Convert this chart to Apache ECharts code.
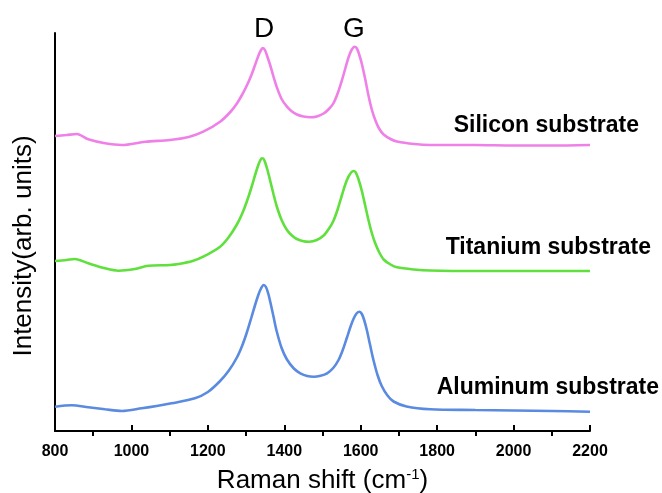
<!DOCTYPE html>
<html>
<head>
<meta charset="utf-8">
<script src="https://cdn.jsdelivr.net/npm/echarts@6/dist/echarts.min.js"></script>
<style>html,body{margin:0;padding:0;background:#fff}#c{width:662px;height:493px}</style>
</head>
<body>
<div id="c"></div>
<script>
// Raman shift (cm-1) and intensity (arb. units, stacked offsets as drawn)
const silicon = [
[800,295],[830,296],[857,297],[887,291.7],[931,287.7],[975,286],[1036,289.3],[1101,291],[1150,294],[1188,299.3],
[1232,309.3],[1260,319.5],[1276,327.5],[1290,336.5],[1302,345.5],[1314,356],[1324,366.5],[1334,377],[1340,381.5],[1344,383],
[1350,380.5],[1356,374],[1363,366],[1372,354],[1380,344.3],[1393,332],[1407,324.3],[1420,319.5],[1433,316.5],[1450,314.5],
[1468,313.7],[1485,314.5],[1503,317.5],[1518,322.5],[1529,328],[1540,338],[1551,351],[1560,363],[1568,373.5],[1576,381],
[1584,384.3],[1590,382.5],[1596,376.5],[1603,367],[1612,351.5],[1620,336],[1629,321.5],[1638,311],[1648,302.5],[1660,296.5],
[1678,292],[1695,289.5],[1740,287],[1782,286],[1900,286],[2000,285.5],[2100,285.5],[2200,286]
];
const titanium = [
[800,170],[830,171],[852,172],[887,167.7],[931,162.7],[966,160.3],[1009,162],[1044,165.3],[1101,166],[1123,167],[1160,170],
[1188,174.3],[1232,184.3],[1255,194],[1276,206.5],[1290,217.5],[1302,229.5],[1314,243.5],[1324,256.5],[1332,266],[1337,270.5],
[1341,272.7],[1345,272.5],[1350,268.5],[1356,261],[1363,250.5],[1372,236.5],[1380,225],[1393,211],[1407,201],[1420,195.5],
[1433,192],[1450,189.8],[1465,189.3],[1485,191],[1503,195.5],[1518,203],[1529,210.5],[1540,222],[1551,236],[1560,247],
[1568,254.3],[1575,258.5],[1581,260],[1587,258.5],[1594,252],[1603,240],[1612,225],[1620,211.5],[1629,198],[1638,187.7],
[1648,179],[1660,171.5],[1678,166.5],[1695,163.7],[1740,161.5],[1782,160.5],[1900,160],[2000,160],[2100,160],[2200,160]
];
const aluminum = [
[800,24.3],[844,25.7],[887,23.7],[931,21.7],[975,20],[1027,22.7],[1066,25],[1105,27.7],[1166,32.7],[1200,39],[1232,50],
[1255,60.5],[1276,73.5],[1290,85.5],[1302,98.5],[1314,113.5],[1324,126.5],[1332,136],[1339,142.5],[1346,146],[1352,144],
[1358,137.5],[1364,128],[1372,114],[1380,100],[1393,83],[1407,71.5],[1425,62.5],[1442,57.7],[1460,55],[1477,54.3],
[1495,55.3],[1512,57.7],[1528,63],[1542,71],[1553,81],[1564,93.5],[1573,104],[1581,112],[1589,117.5],[1597,119.3],
[1603,117],[1609,111],[1616,101],[1624,87],[1633,71.5],[1644,56],[1655,45],[1670,35.5],[1686,29.5],[1720,24.5],
[1782,21.7],[1900,21],[2000,20.5],[2100,20],[2200,19.3]
];
const seriesNames = ['Silicon substrate','Titanium substrate','Aluminum substrate'];
const peakLabels = ['D','G'];
const xTicks = [800,1000,1200,1400,1600,1800,2000,2200];

const FONT = '"Liberation Sans", Arial, sans-serif';
const chart = echarts.init(document.getElementById('c'), null, {renderer:'canvas'});
const colors = ['#ef80e8','#5fe03c','#5a8be0'];
const datas = [silicon, titanium, aluminum];

chart.setOption({
  animation:false,
  backgroundColor:'#fff',
  grid:{left:55,right:72,top:33,bottom:62,containLabel:false,outerBoundsMode:'none'},
  xAxis:{
    type:'value', min:xTicks[0], max:xTicks[xTicks.length-1], interval:200,
    name:'Raman shift (cm{sup|-1})',
    nameLocation:'middle', nameGap:36,
    nameTextStyle:{fontFamily:FONT,fontSize:26,color:'#000',
      rich:{sup:{fontSize:15,verticalAlign:'top',padding:[0,0,12,0],fontFamily:FONT,color:'#000'}}},
    axisLine:{show:true,lineStyle:{color:'#000',width:2}},
    axisTick:{show:true,inside:true,length:6,lineStyle:{color:'#000',width:2}},
    minorTick:{show:true,splitNumber:2,length:-5,lineStyle:{color:'#000',width:2}},
    axisLabel:{fontFamily:FONT,fontSize:16,fontWeight:'bold',color:'#000',margin:13,
      formatter:(v)=>String(v)},
    splitLine:{show:false}
  },
  yAxis:{
    type:'value', min:0, max:398,
    name:'Intensity(arb. units)', nameLocation:'middle', nameGap:18,
    nameTextStyle:{fontFamily:FONT,fontSize:26,color:'#000',padding:[0,28,0,0]},
    axisLine:{show:true,lineStyle:{color:'#000',width:2}},
    axisTick:{show:false}, axisLabel:{show:false}, splitLine:{show:false}
  },
  series: datas.map((d,i)=>({
    type:'line', name:seriesNames[i], data:d, showSymbol:false, smooth:0.3,
    lineStyle:{color:colors[i],width:2.6}, itemStyle:{color:colors[i]}
  })),
  graphic:[
    {type:'text',left:254,top:15,style:{text:peakLabels[0],font:'28px '+FONT,fill:'#000'}},
    {type:'text',left:343,top:15,style:{text:peakLabels[1],font:'28px '+FONT,fill:'#000'}},
    {type:'text',right:23,top:114,style:{text:seriesNames[0],font:'bold 23px '+FONT,fill:'#000'}},
    {type:'text',right:11,top:236,style:{text:seriesNames[1],font:'bold 23px '+FONT,fill:'#000'}},
    {type:'text',right:3,top:376,style:{text:seriesNames[2],font:'bold 23px '+FONT,fill:'#000'}}
  ]
});
</script>
</body>
</html>
